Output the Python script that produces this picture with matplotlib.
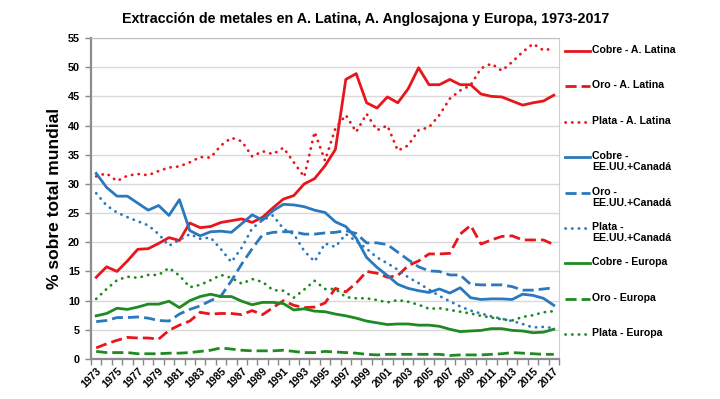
import numpy as np
import matplotlib
matplotlib.use("Agg")
import matplotlib.pyplot as plt
from matplotlib.lines import Line2D

plt.rcParams['font.family'] = ['Liberation Sans', 'DejaVu Sans']
plt.rcParams['font.weight'] = 'bold'

years = list(range(1973, 2018))

# % of world total
cobre_al = [14.0, 15.8, 15.0, 16.8, 18.8, 18.9, 19.8, 20.8, 20.3, 23.3,
            22.5, 22.7, 23.4, 23.7, 24.0, 23.4, 24.3, 25.9, 27.4, 28.0,
            30.0, 30.9, 33.1, 35.9, 47.9, 48.9, 43.9, 43.0, 44.9, 43.9,
            46.3, 49.9, 47.0, 47.0, 47.9, 47.0, 47.0, 45.4, 45.0, 44.9,
            44.2, 43.5, 43.9, 44.2, 45.2]
oro_al = [1.9, 2.6, 3.2, 3.7, 3.6, 3.6, 3.4, 4.9, 5.8, 6.5,
          8.0, 7.7, 7.8, 7.8, 7.6, 8.3, 7.6, 8.8, 10.0, 9.2,
          8.8, 8.9, 9.6, 12.1, 11.5, 13.0, 15.0, 14.7, 14.0, 14.3,
          16.0, 16.8, 18.0, 18.0, 18.1, 21.4, 22.9, 19.7, 20.4, 21.0,
          21.1, 20.4, 20.4, 20.4, 19.6]
plata_al = [31.3, 31.8, 30.5, 31.4, 31.7, 31.5, 32.2, 32.8, 33.0, 33.7,
            34.6, 34.5, 36.6, 37.9, 37.3, 34.7, 35.6, 35.1, 36.2, 33.7,
            31.2, 38.9, 34.0, 39.5, 41.8, 38.9, 42.0, 39.2, 40.0, 35.7,
            36.6, 39.2, 39.7, 41.8, 44.6, 46.0, 46.9, 49.8, 50.6, 49.4,
            50.9, 52.6, 54.0, 52.9, 53.2]
cobre_us = [31.8, 29.4, 27.9, 27.9, 26.7, 25.5, 26.3, 24.6, 27.3, 22.0,
            21.1, 21.8, 21.9, 21.7, 23.2, 24.7, 23.8, 25.4, 26.5, 26.4,
            26.1, 25.5, 25.1, 23.5, 22.7, 20.7, 17.4, 15.7, 14.3, 12.8,
            12.1, 11.7, 11.4, 12.0, 11.3, 12.2, 10.5, 10.2, 10.3, 10.3,
            10.2, 11.1, 10.9, 10.4, 9.2]
oro_us = [6.4, 6.6, 7.1, 7.1, 7.2, 7.0, 6.6, 6.5, 7.7, 8.5,
          9.1, 10.0, 10.8, 13.4, 16.3, 18.9, 21.3, 21.7, 21.8, 21.8,
          21.4, 21.4, 21.6, 21.7, 22.0, 21.5, 19.9, 19.9, 19.6, 18.3,
          17.0, 15.8, 15.1, 15.0, 14.4, 14.4, 12.8, 12.7, 12.7, 12.7,
          12.4, 11.8, 11.8, 12.0, 12.2]
plata_us = [28.4, 26.3, 25.1, 24.3, 23.6, 22.9, 21.4, 19.4, 20.4, 21.4,
            20.6, 20.8, 18.8, 16.6, 19.1, 22.4, 23.8, 24.6, 22.3, 21.4,
            18.5, 16.7, 19.8, 19.2, 21.4, 20.2, 18.9, 17.4, 16.4, 15.3,
            14.0, 13.0, 11.9, 10.8, 9.9, 9.0, 8.3, 7.8, 7.3, 6.9,
            6.5, 6.0, 5.4, 5.5, 5.3]
cobre_eu = [7.4, 7.8, 8.7, 8.5, 8.9, 9.4, 9.4, 9.9, 8.8, 10.0,
            10.7, 11.1, 10.7, 10.7, 9.9, 9.3, 9.7, 9.7, 9.5, 8.4,
            8.6, 8.2, 8.1, 7.7, 7.4, 7.0, 6.5, 6.2, 5.9, 6.0,
            6.0, 5.8, 5.8, 5.6, 5.1, 4.7, 4.8, 4.9, 5.2, 5.2,
            4.9, 4.8, 4.5, 4.6, 5.1]
oro_eu = [1.3, 1.1, 1.1, 1.1, 0.9, 0.9, 0.9, 1.0, 1.0, 1.1,
          1.3, 1.5, 1.9, 1.7, 1.5, 1.4, 1.4, 1.4, 1.5, 1.3,
          1.1, 1.1, 1.3, 1.2, 1.1, 1.0, 0.8, 0.7, 0.8, 0.8,
          0.8, 0.8, 0.8, 0.8, 0.6, 0.7, 0.7, 0.7, 0.8, 0.9,
          1.1, 1.0, 0.9, 0.8, 0.8]
plata_eu = [10.3, 12.0, 13.5, 14.1, 13.9, 14.4, 14.4, 15.6, 14.3, 12.3,
            12.7, 13.5, 14.4, 13.9, 12.9, 13.7, 13.2, 11.8, 11.7, 10.5,
            11.9, 13.4, 12.0, 12.0, 10.6, 10.4, 10.4, 10.1, 9.7, 10.1,
            9.8, 9.3, 8.6, 8.7, 8.4, 8.1, 7.8, 7.4, 7.1, 6.8,
            6.6, 7.2, 7.5, 8.0, 8.2]

RED = '#e8161c'
BLUE = '#2a78bd'
GREEN = '#1f8a22'

series = [
    ("Cobre - A. Latina", cobre_al, RED, 'solid'),
    ("Oro - A. Latina", oro_al, RED, 'dash'),
    ("Plata - A. Latina", plata_al, RED, 'dot'),
    ("Cobre -\nEE.UU.+Canadá", cobre_us, BLUE, 'solid'),
    ("Oro -\nEE.UU.+Canadá", oro_us, BLUE, 'dash'),
    ("Plata -\nEE.UU.+Canadá", plata_us, BLUE, 'dot'),
    ("Cobre - Europa", cobre_eu, GREEN, 'solid'),
    ("Oro - Europa", oro_eu, GREEN, 'dash'),
    ("Plata - Europa", plata_eu, GREEN, 'dot'),
]


def style(kind):
    if kind == 'dash':
        return dict(linestyle=(0, (4, 1.8)), linewidth=2.0, dash_capstyle='butt')
    if kind == 'dot':
        return dict(linestyle=(0, (0.1, 2.3)), linewidth=2.0, dash_capstyle='round')
    return dict(linestyle='-', linewidth=2.0, solid_joinstyle='round')


W, H = 720, 399
fig = plt.figure(figsize=(W / 100, H / 100), dpi=100)
ax = fig.add_axes([91 / W, 1 - 359 / H, (559 - 91) / W, (359 - 38) / H])

for label, vals, color, kind in series:
    ax.plot(years, vals, color=color, **style(kind))

ax.set_xlim(1972.5, 2017.5)
ax.set_ylim(0, 55)
ax.set_yticks(np.arange(0, 56, 5))
ax.yaxis.grid(True, color='#d9d9d9', linewidth=1.0)
ax.set_axisbelow(True)

ax.set_xticks(years[::2])
ax.set_xticklabels([str(y) for y in years[::2]], rotation=45, ha='right',
                   rotation_mode='anchor', fontsize=7.6, fontweight='bold')
ax.set_xticks(np.arange(1972.5, 2018, 1), minor=True)
ax.tick_params(axis='x', which='major', length=0, pad=5)
ax.tick_params(axis='x', which='minor', length=4, color='#888888', width=1)
ax.tick_params(axis='y', length=4, color='#888888', width=1, labelsize=7.8, pad=4)
for t in ax.get_yticklabels():
    t.set_fontweight('bold')

for side in ['left', 'bottom']:
    ax.spines[side].set_color('#8c8c8c')
    ax.spines[side].set_linewidth(1.6)
ax.spines['right'].set_color('#d0d0d0')
ax.spines['top'].set_color('#bfbfbf')

ax.yaxis.set_label_coords(-29 / (559 - 91), 0.5)
ax.set_ylabel("% sobre total mundial", fontsize=12.5, fontweight='bold')
fig.text(366 / W, 1 - 19 / H, "Extracción de metales en A. Latina, A. Anglosajona y Europa, 1973-2017",
         ha='center', va='center', fontsize=10.3, fontweight='bold')

# legend, entries evenly spaced like the original
for k, (label, vals, color, kind) in enumerate(series):
    yl = 1 - (51 + k * 35.4) / H
    fig.add_artist(Line2D([565 / W, 590 / W], [yl, yl], color=color, **style(kind)))
    fig.text(592 / W, yl + 6 / H, label, ha='left', va='top', fontsize=7.6,
             fontweight='bold', linespacing=1.15)

fig.savefig("out.png", dpi=100)
